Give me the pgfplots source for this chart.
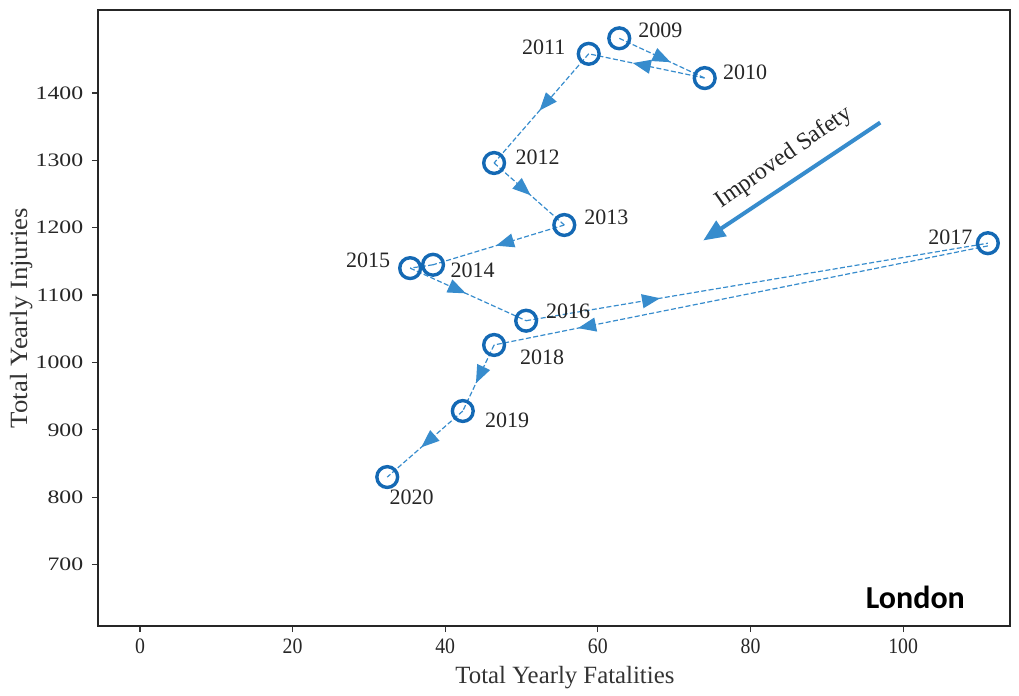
\documentclass[border=0pt]{standalone}
\usepackage{pgfplots}
\pgfplotsset{compat=1.18}
\usepackage{fontspec}
\setmainfont{Liberation Serif}
\newfontfamily\calib{Carlito}
\usetikzlibrary{decorations.markings,arrows.meta}
\definecolor{mk}{RGB}{20,105,180}
\definecolor{ln}{RGB}{55,140,205}
\begin{document}
\begin{tikzpicture}[x=1pt,y=1pt]
\path (0,0) rectangle (509.5,344.5);
\begin{axis}[
  at={(49pt,31.5pt)}, anchor=south west,
  scale only axis, width=456pt, height=308pt,
  xmin=-5.5, xmax=114, ymin=609, ymax=1523,
  xtick={0,20,...,100}, ytick={700,800,...,1400},
  tick align=outside, xtick pos=bottom, ytick pos=left,
  major tick length=3pt,
  axis line style={line width=1pt, black!85},
  tick style={black!80, line width=0.6pt},
  xticklabel style={font=\fontsize{11}{12}\selectfont, black!85, xscale=0.9},
  yticklabel style={font=\fontsize{9.5}{11}\selectfont, black!85, xscale=1.25},
  /pgf/number format/assume math mode=true,
  /pgf/number format/1000 sep={},
  xlabel={Total Yearly Fatalities},
  ylabel={Total Yearly Injuries},
  xlabel style={font=\fontsize{12.4}{14}\selectfont, black!80, at={(axis description cs:0.512,-0.083)}, anchor=center},
  ylabel style={font=\fontsize{12.4}{14}\selectfont, black!80, xscale=1.08, at={(axis description cs:-0.0833,0.5)}, anchor=center},
  clip=false,
  seg/.style={ln, dash pattern=on 2.5pt off 1.2pt, line width=0.6pt, forget plot,
    postaction={decorate},
    decoration={markings, mark=at position #1 with {\arrow[solid]{Triangle[length=9pt,width=7pt]}}}},
  seg/.default=0.55,
]
\addplot[seg=0.6] coordinates {(62.8,1481) (74,1422)};
\addplot[seg=0.62] coordinates {(74,1422) (58.8,1458)};
\addplot[seg=0.52] coordinates {(58.8,1458) (46.4,1296)};
\addplot[seg=0.52] coordinates {(46.4,1296) (55.6,1204)};
\addplot[seg=0.52] coordinates {(55.6,1204) (38.4,1145)};
\addplot[ln, dash pattern=on 2.5pt off 1.2pt, line width=0.6pt, forget plot] coordinates {(38.4,1145) (35.4,1140)};
\addplot[seg=0.48] coordinates {(35.4,1140) (50.6,1062)};
\addplot[seg=0.29] coordinates {(50.6,1062) (111.1,1177)};
\addplot[seg=0.83] coordinates {(111.1,1173) (46.4,1026)};
\addplot[seg=0.58] coordinates {(46.4,1026) (42.3,928)};
\addplot[seg=0.55] coordinates {(42.3,928) (32.4,830)};
\addplot[only marks, mark=o, mark size=5.2pt, mk, mark options={line width=1.7pt}] coordinates {
(62.8,1481) (74,1422) (58.8,1458) (46.4,1296) (55.6,1204) (38.4,1145)
(35.4,1140) (50.6,1062) (111.1,1177) (46.4,1026) (42.3,928) (32.4,830)};
\begin{scope}[every node/.style={font=\fontsize{11}{12}\selectfont, black!85}]
\node at (axis cs:68.2,1493.5) {2009};
\node at (axis cs:79.3,1431) {2010};
\node at (axis cs:52.9,1467) {2011};
\node at (axis cs:52.1,1305) {2012};
\node at (axis cs:61.1,1215) {2013};
\node at (axis cs:43.6,1137) {2014};
\node at (axis cs:29.9,1152) {2015};
\node at (axis cs:56.1,1076) {2016};
\node at (axis cs:106.2,1186) {2017};
\node at (axis cs:52.7,1008) {2018};
\node at (axis cs:48.1,914) {2019};
\node at (axis cs:35.6,800) {2020};
\end{scope}
\draw[ln, line width=2pt, -{Triangle[length=11pt,width=9pt]}] (axis cs:97,1356) -- (axis cs:73.8,1181);
\node[rotate=35, font=\fontsize{12}{14}\selectfont, black!85] at (axis cs:84.4,1304) {Improved Safety};
\node[font=\calib\bfseries\fontsize{16}{18}\selectfont] at (axis cs:101.6,651) {London};
\end{axis}
\end{tikzpicture}
\end{document}
